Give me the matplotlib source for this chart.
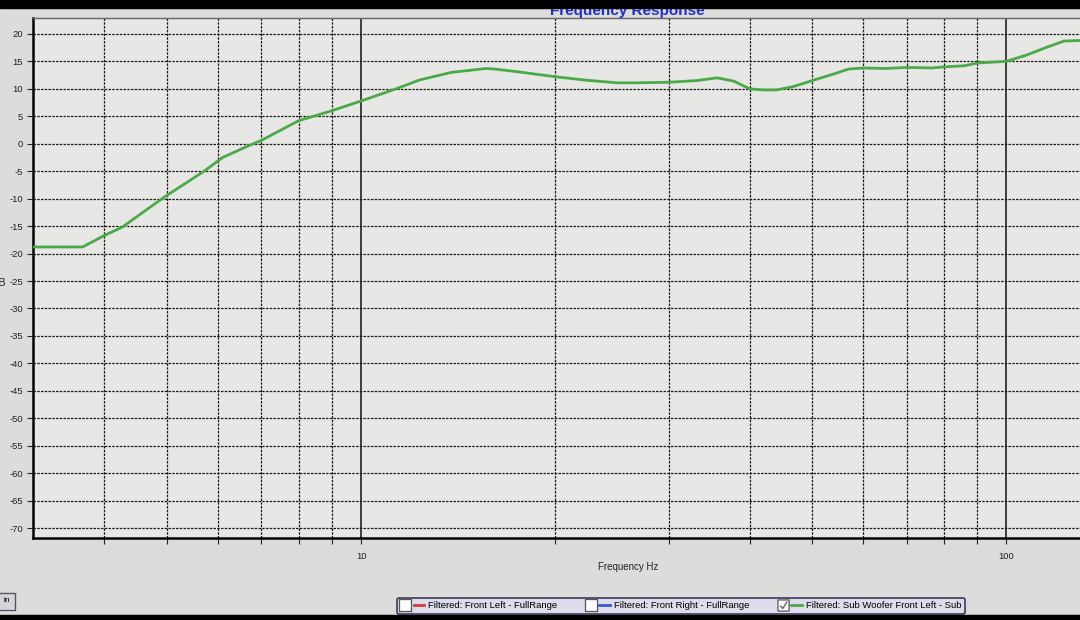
import numpy as np
import matplotlib.pyplot as plt
from matplotlib.lines import Line2D
from matplotlib.legend_handler import HandlerTuple
from matplotlib.path import Path
from matplotlib.patches import Rectangle
from matplotlib.ticker import NullFormatter

# frequency response (Hz, dB)
freq = [3.1, 3.7, 4.0, 4.26, 4.86, 5.0, 5.7, 6.1, 6.68, 7.0, 8.0, 9.0, 10.0,
        11.45, 12.3, 13.8, 15.6, 16.1, 17.5, 20.0, 22.2, 24.9, 26.8, 30.0,
        33.1, 35.6, 37.8, 40.0, 42.0, 44.0, 46.7, 50.0, 54.3, 56.9, 60.0,
        64.9, 70.0, 76.7, 80.0, 86.1, 90.0, 100.0, 107.7, 115.6, 122.8, 130.0]
level = [-18.8, -18.8, -16.7, -15.2, -10.4, -9.4, -5.05, -2.5, -0.4, 0.6, 4.2, 6.0, 7.8,
         10.2, 11.6, 13.0, 13.7, 13.6, 13.1, 12.2, 11.6, 11.1, 11.1, 11.2,
         11.5, 12.0, 11.4, 10.0, 9.8, 9.8, 10.4, 11.5, 12.8, 13.6, 13.8,
         13.7, 13.9, 13.8, 14.0, 14.2, 14.7, 15.0, 16.2, 17.6, 18.7, 18.8]

db_ticks = list(range(-70, 25, 5))
hz_major = [10, 100]
hz_minor = [4, 5, 6, 7, 8, 9, 20, 30, 40, 50, 60, 70, 80, 90]

legend_names = ['Filtered: Front Left - FullRange',
                'Filtered: Front Right - FullRange',
                'Filtered: Sub Woofer Front Left - Sub']
legend_colors = ['#d23a3a', '#3a55d0', '#4aaa4a']
legend_checked = [False, False, True]

plt.rcParams['font.family'] = ['Liberation Sans', 'DejaVu Sans']
plt.rcParams['axes.unicode_minus'] = False

fig = plt.figure(figsize=(10.8, 6.2), dpi=100, facecolor='#dcdcda')
ax = fig.add_axes([33/1080, 1-538/620, 1-33/1080, (538-18)/620])
ax.set_facecolor('#e7e7e5')
ax.set_xscale('log')
ax.set_xlim(3.1, 130)
ax.set_ylim(-71.8, 22.9)

ax.plot(freq, level, color='#4aaa4a', lw=2, zorder=3)

ax.set_yticks(db_ticks)
ax.set_xticks(hz_major)
ax.set_xticklabels([str(v) for v in hz_major])
ax.set_xticks(hz_minor, minor=True)
ax.xaxis.set_minor_formatter(NullFormatter())
ax.tick_params(axis='both', which='both', direction='out', length=4, width=0.8,
               labelsize=6.8, colors='#222222')
ax.tick_params(axis='x', which='major', pad=6)
ax.tick_params(axis='y', pad=3)

dotted = (0, (2, 1))
ax.grid(axis='y', which='major', color='#1a1a1a', ls=dotted, lw=0.9)
ax.grid(axis='x', which='minor', color='#1a1a1a', ls=dotted, lw=0.9)
ax.grid(axis='x', which='major', color='#111111', ls='-', lw=1.1)

ax.spines['left'].set_linewidth(1.8)
ax.spines['bottom'].set_linewidth(1.8)
ax.spines['top'].set_color('#666666')
ax.spines['top'].set_linewidth(1.0)
ax.spines['right'].set_visible(False)

fig.text(628/1080, 1-567/620, 'Frequency Hz', ha='center', va='center',
         fontsize=7, color='#222222')
fig.text(0.006, 1-283/620, 'dB', ha='right', va='center', fontsize=8, color='#222222')
fig.text(627/1080, 1-11/620, 'Frequency Response', ha='center', va='center',
         fontsize=11, fontweight='bold', color='#1f2fd0')

# checkbox markers
box = Path([(-1, -1), (1, -1), (1, 1), (-1, 1), (-1, -1)],
           [Path.MOVETO, Path.LINETO, Path.LINETO, Path.LINETO, Path.CLOSEPOLY])
box_check = Path([(-1, -1), (1, -1), (1, 1), (-1, 1), (-1, -1),
                  (-0.6, 0.0), (-0.15, -0.55), (0.65, 0.7)],
                 [Path.MOVETO, Path.LINETO, Path.LINETO, Path.LINETO, Path.CLOSEPOLY,
                  Path.MOVETO, Path.LINETO, Path.LINETO])
handles = []
for c, chk in zip(legend_colors, legend_checked):
    b = Line2D([], [], ls='none', marker=box_check if chk else box, ms=8,
               mfc='white', mec='#555555', mew=0.9)
    l = Line2D([], [], color=c, lw=2)
    handles.append((b, l))

leg = fig.legend(handles, legend_names, ncol=3, loc='center',
                 bbox_to_anchor=(681/1080, 1-606/620), fontsize=6.8,
                 handler_map={tuple: HandlerTuple(ndivide=None, pad=0.35)},
                 handlelength=2.5, handletextpad=0.5, columnspacing=3.0,
                 borderpad=0.35, fancybox=True, framealpha=1)
leg.get_frame().set_facecolor('#dcdcea')
leg.get_frame().set_edgecolor('#3a3a5a')
leg.get_frame().set_linewidth(1.2)

fig.text(0.003, 1-601/620, 'in', ha='left', va='center', fontsize=6,
         bbox=dict(boxstyle='square,pad=0.6', fc='#d6d6d8', ec='#555566', lw=1))

# black bands of the photographed screen
fig.patches.append(Rectangle((0, 1-8/620), 1, 8/620, transform=fig.transFigure,
                             color='black', zorder=10))
fig.patches.append(Rectangle((0, 0), 1, 5/620, transform=fig.transFigure,
                             color='black', zorder=10))

plt.savefig('out.png', dpi=100, facecolor=fig.get_facecolor())
